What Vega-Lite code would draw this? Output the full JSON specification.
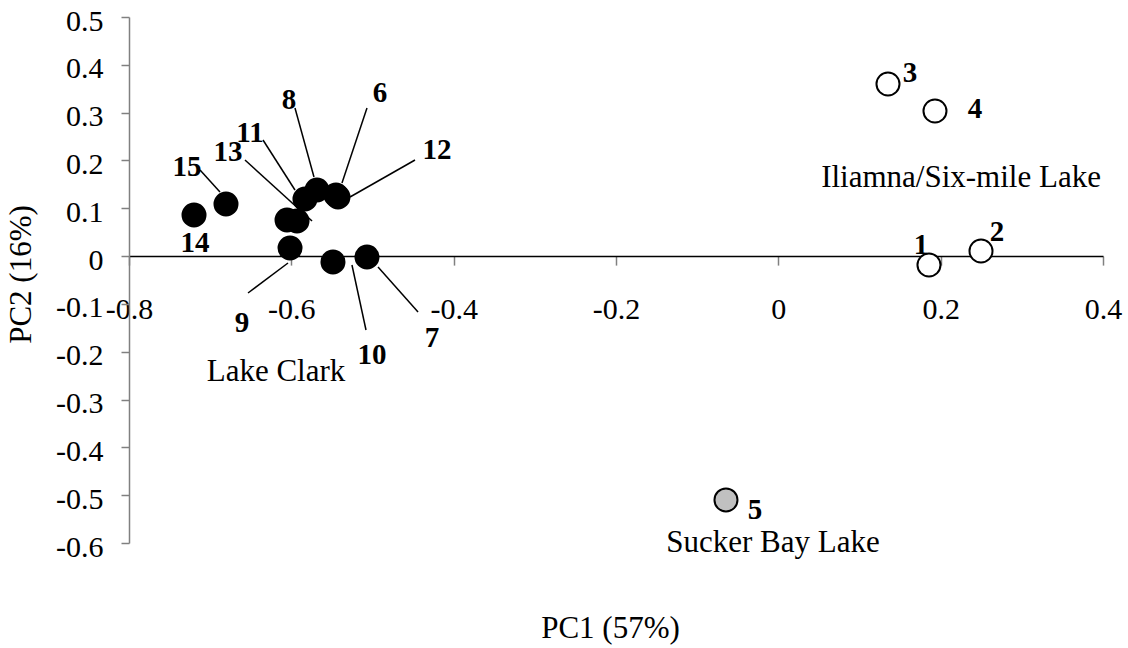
{
  "$schema": "https://vega.github.io/schema/vega-lite/v6.json",
  "width": 974,
  "height": 526,
  "autosize": {"type": "none"},
  "padding": {"left": 129, "top": 17, "right": 25, "bottom": 105},
  "background": "white",
  "config": {
    "view": {"stroke": null},
    "font": "Liberation Serif",
    "axis": {"grid": false, "labelFont": "Liberation Serif", "titleFont": "Liberation Serif", "labelColor": "black", "titleColor": "black", "titleFontWeight": "normal"}
  },
  "datasets": {
    "points": [
      {"site": "1", "group": "Iliamna/Six-mile Lake", "pc1": 0.1856, "pc2": -0.0186},
      {"site": "2", "group": "Iliamna/Six-mile Lake", "pc1": 0.2497, "pc2": 0.0106},
      {"site": "3", "group": "Iliamna/Six-mile Lake", "pc1": 0.1351, "pc2": 0.3599},
      {"site": "4", "group": "Iliamna/Six-mile Lake", "pc1": 0.193, "pc2": 0.3034},
      {"site": "5", "group": "Sucker Bay Lake", "pc1": -0.0645, "pc2": -0.51},
      {"site": "6", "group": "Lake Clark", "pc1": -0.545, "pc2": 0.1278},
      {"site": "7", "group": "Lake Clark", "pc1": -0.5068, "pc2": -0.0019},
      {"site": "8", "group": "Lake Clark", "pc1": -0.5684, "pc2": 0.1382},
      {"site": "9", "group": "Lake Clark", "pc1": -0.6016, "pc2": 0.0169},
      {"site": "10", "group": "Lake Clark", "pc1": -0.5487, "pc2": -0.0124},
      {"site": "11", "group": "Lake Clark", "pc1": -0.5832, "pc2": 0.1194},
      {"site": "12", "group": "Lake Clark", "pc1": -0.5425, "pc2": 0.1236},
      {"site": "13", "group": "Lake Clark", "pc1": -0.593, "pc2": 0.0734},
      {"site": "", "group": "Lake Clark", "pc1": -0.6053, "pc2": 0.0755},
      {"site": "14", "group": "Lake Clark", "pc1": -0.7199, "pc2": 0.0859},
      {"site": "15", "group": "Lake Clark", "pc1": -0.6805, "pc2": 0.1089}
    ],
    "labels": [
      {"text": "1", "pc1": 0.1758, "pc2": 0.0232},
      {"text": "2", "pc1": 0.2694, "pc2": 0.0504},
      {"text": "3", "pc1": 0.1622, "pc2": 0.3829},
      {"text": "4", "pc1": 0.2423, "pc2": 0.3076},
      {"text": "5", "pc1": -0.0287, "pc2": -0.531},
      {"text": "6", "pc1": -0.4908, "pc2": 0.3411},
      {"text": "7", "pc1": -0.4267, "pc2": -0.1713},
      {"text": "8", "pc1": -0.6029, "pc2": 0.3264},
      {"text": "9", "pc1": -0.6608, "pc2": -0.1399},
      {"text": "10", "pc1": -0.5006, "pc2": -0.2068},
      {"text": "11", "pc1": -0.6509, "pc2": 0.2574},
      {"text": "12", "pc1": -0.4205, "pc2": 0.2219},
      {"text": "13", "pc1": -0.678, "pc2": 0.2177},
      {"text": "14", "pc1": -0.7187, "pc2": 0.0274},
      {"text": "15", "pc1": -0.7285, "pc2": 0.1863}
    ],
    "groups": [
      {"text": "Iliamna/Six-mile Lake", "pc1": 0.2251, "pc2": 0.1633},
      {"text": "Lake Clark", "pc1": -0.6189, "pc2": -0.2424},
      {"text": "Sucker Bay Lake", "pc1": -0.0066, "pc2": -0.6}
    ],
    "leaders": [
      {"site": "15", "x1": -0.7125, "y1": 0.18, "x2": -0.6879, "y2": 0.134},
      {"site": "13", "x1": -0.6571, "y1": 0.2009, "x2": -0.5745, "y2": 0.0734},
      {"site": "11", "x1": -0.6349, "y1": 0.2428, "x2": -0.5955, "y2": 0.1382},
      {"site": "8", "x1": -0.5955, "y1": 0.3097, "x2": -0.5721, "y2": 0.1654},
      {"site": "6", "x1": -0.5068, "y1": 0.3097, "x2": -0.5376, "y2": 0.1529},
      {"site": "12", "x1": -0.4476, "y1": 0.2009, "x2": -0.5277, "y2": 0.1236},
      {"site": "9", "x1": -0.6534, "y1": -0.0772, "x2": -0.6041, "y2": -0.0144},
      {"site": "10", "x1": -0.508, "y1": -0.1546, "x2": -0.5253, "y2": -0.0186},
      {"site": "7", "x1": -0.4439, "y1": -0.1169, "x2": -0.4932, "y2": -0.0228}
    ]
  },
  "layer": [
    {
      "data": {"name": "leaders"},
      "mark": {"type": "rule", "color": "black", "strokeWidth": 1.5},
      "encoding": {
        "x": {
          "field": "x1", "type": "quantitative",
          "scale": {"domain": [-0.8, 0.4], "nice": false, "zero": false},
          "axis": {
            "title": "PC1 (57%)",
            "orient": "bottom",
            "offset": -286.9,
            "values": [-0.8, -0.6, -0.4, -0.2, 0, 0.2, 0.4],
            "labelExpr": "toString(round(datum.value*10)/10)",
            "labelFontSize": 30,
            "labelBaseline": "alphabetic",
            "labelPadding": 53,
            "labelFlush": false,
            "labelOverlap": false,
            "labelBound": false,
            "tickSize": 9,
            "tickColor": "#808080",
            "tickWidth": 1.5,
            "domainColor": "black",
            "domainWidth": 1.5,
            "titleFontSize": 31,
            "titleX": 481,
            "titleY": 381,
            "titleBaseline": "alphabetic",
            "titleAnchor": null
          }
        },
        "y": {
          "field": "y1", "type": "quantitative",
          "scale": {"domain": [-0.6, 0.5], "nice": false, "zero": false},
          "axis": {
            "title": "PC2 (16%)",
            "values": [-0.6, -0.5, -0.4, -0.3, -0.2, -0.1, 0, 0.1, 0.2, 0.3, 0.4, 0.5],
            "labelExpr": "toString(round(datum.value*10)/10)",
            "labelFontSize": 30,
            "labelPadding": 18,
            "labelOffset": 4,
            "labelFlush": false,
            "labelOverlap": false,
            "labelBound": false,
            "tickSize": 8,
            "tickColor": "#808080",
            "tickWidth": 1.5,
            "domainColor": "#808080",
            "domainWidth": 1.5,
            "titleFontSize": 31,
            "titleX": -99,
            "titleY": 257,
            "titleBaseline": "alphabetic",
            "titleAngle": 270
          }
        },
        "x2": {"field": "x2"},
        "y2": {"field": "y2"}
      }
    },
    {
      "data": {"name": "points"},
      "mark": {"type": "point", "shape": "circle", "filled": false, "size": 530, "stroke": "black", "strokeWidth": 2, "opacity": 1},
      "encoding": {
        "x": {"field": "pc1", "type": "quantitative"},
        "y": {"field": "pc2", "type": "quantitative"},
        "fill": {
          "field": "group", "type": "nominal",
          "scale": {"domain": ["Iliamna/Six-mile Lake", "Sucker Bay Lake", "Lake Clark"], "range": ["white", "#c0c0c0", "black"]},
          "legend": null
        }
      }
    },
    {
      "data": {"name": "labels"},
      "mark": {"type": "text", "font": "Liberation Serif", "fontWeight": "bold", "fontSize": 29, "baseline": "middle", "align": "center", "color": "black"},
      "encoding": {
        "x": {"field": "pc1", "type": "quantitative"},
        "y": {"field": "pc2", "type": "quantitative"},
        "text": {"field": "text"}
      }
    },
    {
      "data": {"name": "groups"},
      "mark": {"type": "text", "font": "Liberation Serif", "fontSize": 31, "baseline": "middle", "align": "center", "color": "black"},
      "encoding": {
        "x": {"field": "pc1", "type": "quantitative"},
        "y": {"field": "pc2", "type": "quantitative"},
        "text": {"field": "text"}
      }
    }
  ]
}
